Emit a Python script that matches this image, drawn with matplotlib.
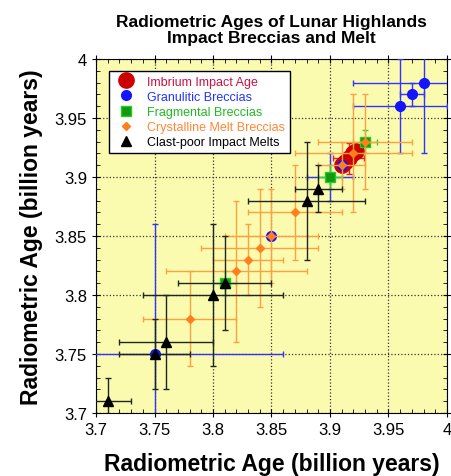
import matplotlib.pyplot as plt
from matplotlib.lines import Line2D
from matplotlib.ticker import MultipleLocator

plt.rcParams['font.family'] = ['Liberation Sans', 'DejaVu Sans']

# Imbrium impact age (overlapping big red dots)
imb_x = [3.91, 3.913, 3.916, 3.92, 3.922]
imb_y = [3.91, 3.913, 3.916, 3.92, 3.922]
imb_err = [0.0, 0.0, 0.013, 0.0, 0.0]

gran_x = [3.75, 3.85, 3.90, 3.91, 3.96, 3.97, 3.98]
gran_y = [3.75, 3.85, 3.90, 3.91, 3.96, 3.97, 3.98]
gran_err = [0.11, 0.0, 0.02, 0.0, 0.04, 0.01, 0.06]

frag_x = [3.81, 3.90, 3.93]
frag_y = [3.81, 3.90, 3.93]
frag_err = [0.01, 0.01, 0.01]

cryst_x = [3.78, 3.82, 3.83, 3.84, 3.85, 3.87, 3.91, 3.92, 3.93]
cryst_y = [3.78, 3.82, 3.83, 3.84, 3.85, 3.87, 3.91, 3.92, 3.93]
cryst_err = [0.04, 0.06, 0.03, 0.05, 0.04, 0.04, 0.02, 0.05, 0.04]

melt_x = [3.71, 3.75, 3.76, 3.80, 3.81, 3.88, 3.89]
melt_y = [3.71, 3.75, 3.76, 3.80, 3.81, 3.88, 3.89]
melt_err = [0.02, 0.03, 0.04, 0.06, 0.04, 0.05, 0.02]

ticks = [3.7, 3.75, 3.8, 3.85, 3.9, 3.95, 4.0]
tick_labels = ['3.7', '3.75', '3.8', '3.85', '3.9', '3.95', '4']

names = ['Imbrium Impact Age', 'Granulitic Breccias', 'Fragmental Breccias',
         'Crystalline Melt Breccias', 'Clast-poor Impact Melts']
text_colors = ['#cc1144', '#2233ff', '#22bb22', '#ff8833', 'black']

fig = plt.figure(figsize=(4.52, 4.77), dpi=100)
ax = fig.add_axes([0.2124, 0.132, 0.7765, 0.742])
ax.set_facecolor('#fbfbb0')

ax.errorbar(imb_x, imb_y, xerr=imb_err, yerr=imb_err, fmt='o', color='#cc0000',
            mec='#cc0000', ecolor='#dd2222', elinewidth=1, capsize=2, markersize=11,
            zorder=3)
ax.errorbar(gran_x, gran_y, xerr=gran_err, yerr=gran_err, fmt='o', color='#1414ff',
            mec='#1414ff', ecolor='#3333ff', elinewidth=1, capsize=2, markersize=7,
            zorder=4)
ax.errorbar(frag_x, frag_y, xerr=frag_err, yerr=frag_err, fmt='s', color='#119911',
            mec='#22cc22', ecolor='#33cc33', elinewidth=1, capsize=2, markersize=6.5,
            zorder=5)
ax.errorbar(cryst_x, cryst_y, xerr=cryst_err, yerr=cryst_err, fmt='D', color='#ff7f1a',
            mec='#ff7f1a', ecolor='#ffa040', elinewidth=1, capsize=2, markersize=4.5,
            zorder=6)
ax.errorbar(melt_x, melt_y, xerr=melt_err, yerr=melt_err, fmt='^', color='black',
            ecolor='#1e261e', elinewidth=1, capsize=2, markersize=6.5,
            zorder=7)

ax.set_xlim(3.7, 4.0)
ax.set_ylim(3.7, 4.0)
ax.set_xticks(ticks)
ax.set_yticks(ticks)
ax.set_xticklabels(tick_labels)
ax.set_yticklabels(tick_labels)
ax.xaxis.set_minor_locator(MultipleLocator(0.01))
ax.yaxis.set_minor_locator(MultipleLocator(0.01))
ax.tick_params(which='major', direction='inout', length=6, top=True, right=True,
               labelsize=12)
ax.tick_params(which='minor', direction='in', length=3, top=True, right=True)
ax.grid(True, which='major', color='#333333', linestyle=':', linewidth=0.9)
ax.set_axisbelow(True)

ax.set_xlabel('Radiometric Age (billion years)', fontsize=16.5, fontweight='bold', labelpad=11)
ax.set_ylabel('Radiometric Age (billion years)', fontsize=16.5, fontweight='bold', labelpad=8)
ax.set_title('Radiometric Ages of Lunar Highlands\nImpact Breccias and Melt',
             fontsize=12.5, fontweight='bold', pad=12, linespacing=1.15)

handles = [
    Line2D([], [], ls='none', marker='o', color='#cc0000', markersize=11),
    Line2D([], [], ls='none', marker='o', color='#1414ff', markersize=7),
    Line2D([], [], ls='none', marker='s', color='#119911', mec='#22cc22', markersize=6.5),
    Line2D([], [], ls='none', marker='D', color='#ff7f1a', markersize=4.5),
    Line2D([], [], ls='none', marker='^', color='black', markersize=6.5),
]
leg = ax.legend(handles, names, loc='upper left', bbox_to_anchor=(0.02, 0.985), fontsize=9,
                frameon=True, fancybox=False, edgecolor='black', framealpha=1,
                handletextpad=0.8, borderpad=0.4, labelspacing=0.25, handlelength=1.8)
leg.get_frame().set_linewidth(1)
for t, c in zip(leg.get_texts(), text_colors):
    t.set_color(c)

fig.savefig('out.png', dpi=100)
